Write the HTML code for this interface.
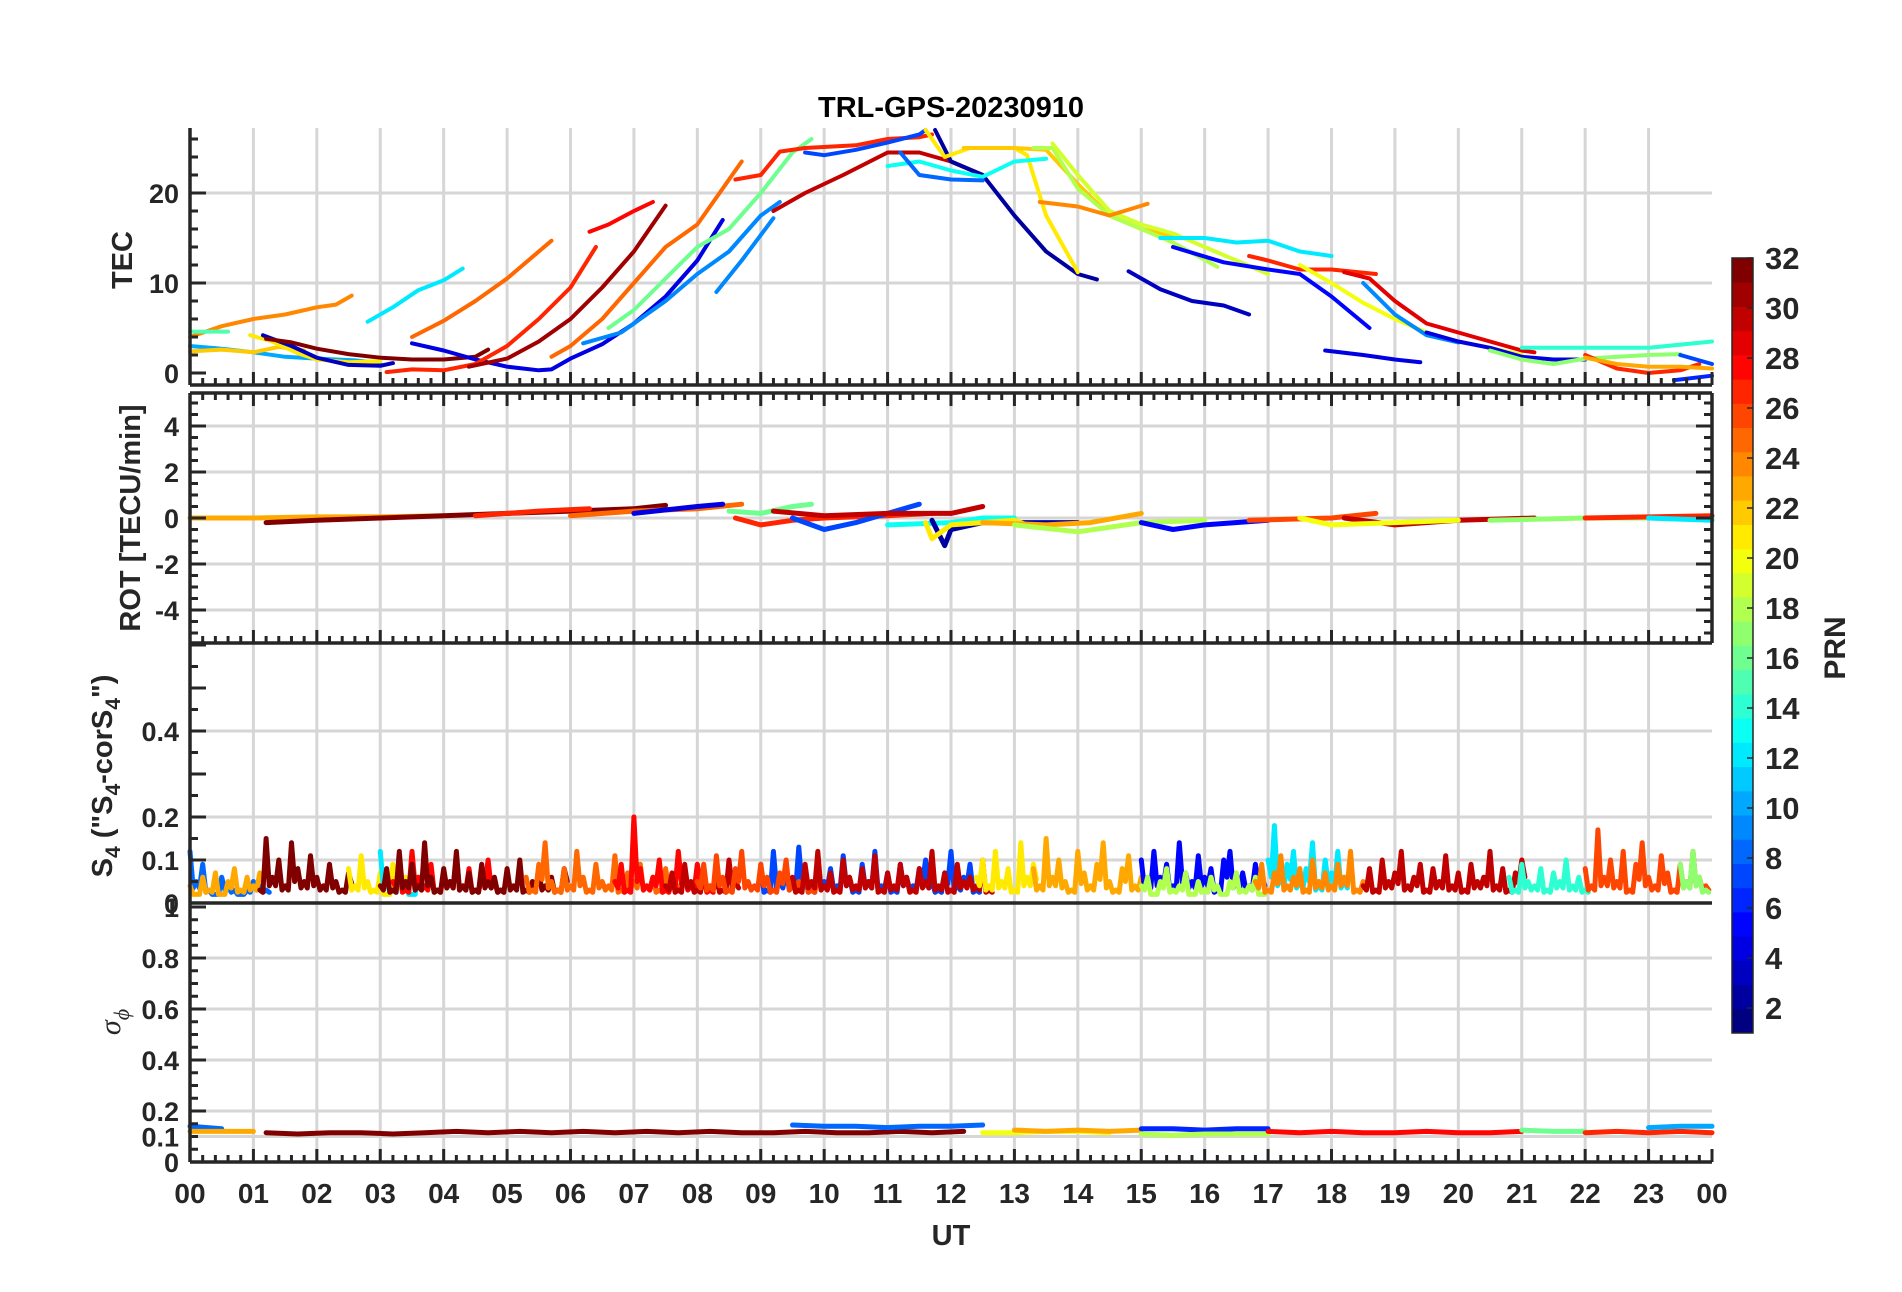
<!DOCTYPE html>
<html><head><meta charset="utf-8"><style>
html,body{margin:0;padding:0;background:#fff;}
svg{display:block;font-family:"Liberation Sans",Arial,sans-serif;font-weight:bold;}
</style></head><body>
<svg id="fig" width="1902" height="1292" viewBox="0 0 1902 1292" xmlns="http://www.w3.org/2000/svg">
<rect x="0" y="0" width="1902" height="1292" fill="#fff"/>
<g id="grid"></g>
<g id="series"></g>
<g id="axes"></g>
<g id="cbar"></g>
<text x="951" y="117" text-anchor="middle" font-size="29" fill="#000">TRL-GPS-20230910</text>
<text x="951" y="1245" text-anchor="middle" font-size="29" fill="#262626">UT</text>
<text transform="translate(132,260) rotate(-90)" text-anchor="middle" font-size="29" fill="#262626">TEC</text>
<text transform="translate(140,518) rotate(-90)" text-anchor="middle" font-size="29" fill="#262626">ROT [TECU/min]</text>
<text transform="translate(112,776) rotate(-90)" text-anchor="middle" font-size="29" fill="#262626">S<tspan font-size="21" dy="8">4</tspan><tspan dy="-8"> ("S</tspan><tspan font-size="21" dy="8">4</tspan><tspan dy="-8">-corS</tspan><tspan font-size="21" dy="8">4</tspan><tspan dy="-8">")</tspan></text>
<text transform="translate(120,1022) rotate(-90)" text-anchor="middle" font-size="30" fill="#262626" font-family="Liberation Serif, serif" font-style="italic" font-weight="normal">σ<tspan font-size="22" dy="9">ϕ</tspan></text>
<text transform="translate(1845,648) rotate(-90)" text-anchor="middle" font-size="30" fill="#262626">PRN</text>
</svg>
<script>
// ---------- data ----------
const hourTicks=["00","01","02","03","04","05","06","07","08","09","10","11","12","13","14","15","16","17","18","19","20","21","22","23","00"];
const tecTicks=[0,10,20];
const rotTicks=[-4,-2,0,2,4];
const s4Ticks=[0,0.1,0.2,0.4];
const sigTicks=[0,0.1,0.2,0.4,0.6,0.8];
const cbarTicks=[2,4,6,8,10,12,14,16,18,20,22,24,26,28,30,32];

const tecPRN=[24,15,10,22,21,3,32,12,25,4,27,31,28,25,9,9,16,27,30,7,2,21,13,8,22,18,19,24,3,12,5,27,29,20,4,9,4,14,17,27,23,7,6];
const tecArcs=[
[[0,4],[0.5,5.2],[1,6],[1.5,6.5],[2,7.3],[2.3,7.6],[2.55,8.6]],
[[0,4.6],[0.6,4.6]],
[[0,3],[0.5,2.7],[1,2.3],[1.5,1.8],[2,1.6],[2.6,1.4],[3,1.1]],
[[0,2.4],[0.5,2.6],[1,2.3],[1.4,2.9],[1.8,2.5]],
[[0.95,4.2],[1.3,3.5],[1.7,2.2],[2,1.5],[2.5,1.2],[3,1.3]],
[[1.15,4.2],[1.6,3.0],[2,1.7],[2.5,0.9],[3,0.8],[3.2,1.1]],
[[1.2,3.8],[1.6,3.4],[2,2.7],[2.5,2.1],[3,1.7],[3.5,1.5],[4,1.5],[4.5,1.8],[4.7,2.6]],
[[2.8,5.7],[3.2,7.3],[3.6,9.2],[4,10.3],[4.3,11.6]],
[[3.5,4],[4,5.8],[4.5,8],[5,10.5],[5.5,13.5],[5.7,14.7]],
[[3.5,3.3],[4,2.5],[4.5,1.5],[5,0.7],[5.5,0.3],[5.7,0.4],[6,1.6],[6.5,3.2],[7,5.5],[7.5,8.5],[8,12.5],[8.4,17]],
[[3.1,0.1],[3.5,0.4],[4,0.3],[4.5,1],[5,3],[5.5,6],[6,9.5],[6.4,14]],
[[4.4,0.7],[5,1.6],[5.5,3.5],[6,6],[6.5,9.5],[7,13.5],[7.5,18.6]],
[[6.3,15.7],[6.6,16.5],[7,18],[7.3,19]],
[[5.7,1.8],[6,3],[6.5,6],[7,10],[7.5,14],[8,16.5],[8.3,19.5],[8.7,23.5]],
[[6.2,3.3],[6.8,4.5],[7.5,8],[8,11],[8.5,13.5],[9,17.5],[9.3,19]],
[[8.3,9],[8.7,12.5],[9.2,17.2]],
[[6.6,5],[7,7],[7.5,10.5],[8,14],[8.5,16],[9,20],[9.5,24.5],[9.8,26]],
[[8.6,21.5],[9,22],[9.3,24.6],[9.7,25],[10.5,25.3],[11,26],[11.5,26.2],[11.7,26.5]],
[[9.2,18],[9.7,20],[10.3,22],[11,24.5],[11.5,24.5],[12,23.5],[12.5,22]],
[[9.7,24.5],[10,24.2],[10.5,24.8],[11,25.6],[11.5,26.5],[11.6,27]],
[[11.75,27],[12,23.5],[12.5,22],[13,17.5],[13.5,13.5],[14,11],[14.3,10.4]],
[[11.6,27],[11.9,24],[12.3,25],[13,25],[13.2,24.2],[13.5,17.5],[14,11.2]],
[[11,23],[11.5,23.5],[12,22.5],[12.5,21.8],[13,23.5],[13.5,23.8]],
[[11.2,24.5],[11.5,22],[12,21.5],[12.5,21.4]],
[[12.2,25],[12.5,25],[13,25],[13.5,24.8],[14,21],[14.5,17.5],[15,16],[15.5,15.2]],
[[13.3,25],[13.6,25],[14,20.5],[14.5,17.5],[15,16],[15.5,14.5],[16.2,11.8]],
[[13.6,25.5],[14,22],[14.5,18],[15,16.5],[15.5,15.5],[16.5,12.5],[17,11]],
[[13.4,19],[14,18.5],[14.5,17.5],[15.1,18.8]],
[[14.8,11.3],[15.3,9.3],[15.8,8],[16.3,7.5],[16.7,6.5]],
[[15.3,15],[16,15],[16.5,14.5],[17,14.7],[17.5,13.5],[18,13]],
[[15.5,14],[16.3,12.3],[17,11.5],[17.5,11],[18,8.5],[18.6,5]],
[[16.7,13],[17,12.5],[17.5,11.5],[18,11.5],[18.7,11]],
[[18.2,11.2],[18.6,10.5],[19,8],[19.5,5.5],[20,4.5],[20.5,3.5],[21,2.5],[21.2,2.3]],
[[17.5,12],[18,10],[18.5,7.8],[19,6],[19.5,4.5],[20,3.5],[20.5,2.8],[21,2]],
[[17.9,2.5],[18.5,2],[19,1.5],[19.4,1.2]],
[[18.5,10],[19,6.5],[19.5,4.2],[20,3.4]],
[[19.5,4.5],[20,3.5],[20.5,2.8],[21,1.8],[21.5,1.5],[22,1.5]],
[[21,2.8],[22,2.8],[23,2.8],[24,3.5]],
[[20.5,2.5],[21,1.5],[21.5,1],[22,1.6],[23,2],[23.5,2.1]],
[[22,2],[22.5,0.5],[23,0],[23.5,0.3],[23.8,1]],
[[22,1.7],[22.5,1],[23,0.7],[23.5,0.7],[24,0.5]],
[[23.5,2],[24,1]],
[[23.4,-0.8],[24,-0.3]]
];

const rotPRN=[23,32,27,25,4,16,27,7,30,13,2,21,23,18,5,26,30,20,17,27,12];
const rotArcs=[
[[0,0],[1,0],[2,0.05],[3,0.05],[4,0.1]],
[[1.2,-0.2],[2,-0.1],[3,0],[4,0.1],[5,0.2],[6,0.3],[7,0.4],[7.5,0.55]],
[[4.5,0.1],[5,0.2],[5.5,0.3],[6.3,0.4]],
[[6,0.1],[7,0.3],[8,0.4],[8.7,0.6]],
[[7,0.2],[8,0.5],[8.4,0.6]],
[[8.5,0.3],[9,0.2],[9.5,0.5],[9.8,0.6]],
[[8.6,0],[9,-0.3],[9.5,-0.1],[10,0],[11,0.1],[11.7,0.2]],
[[9.5,0],[10,-0.5],[10.5,-0.2],[11,0.2],[11.5,0.6]],
[[9.2,0.3],[10,0.1],[11,0.2],[12,0.2],[12.5,0.5]],
[[11,-0.3],[12,-0.2],[12.5,0],[13,0]],
[[11.7,-0.1],[11.9,-1.2],[12,-0.5],[12.5,-0.2],[13,-0.2],[14,-0.2]],
[[11.6,-0.2],[11.7,-0.9],[12,-0.3],[13,-0.1],[13.3,-0.4]],
[[12.5,-0.2],[13.5,-0.3],[14.2,-0.2],[15,0.2]],
[[13,-0.3],[14,-0.6],[15,-0.2],[16,-0.1]],
[[15,-0.2],[15.5,-0.5],[16,-0.3],[17,-0.1]],
[[16.7,-0.1],[18,0],[18.7,0.2]],
[[18.2,0],[19,-0.3],[20,-0.1],[21.2,0]],
[[17.5,0],[18,-0.3],[20,-0.1]],
[[20.5,-0.1],[22,0],[24,0]],
[[22,0],[23,0.05],[24,0.1]],
[[23,0],[24,-0.1]]
];

const s4Start=[0,0,1.1,2.5,3.0,3.2,3.0,5.3,6.7,7.5,9.0,8.0,9.5,12.4,13.3,15.0,15.0,17.0,16.8,18.5,20.8,22.0,23.5];
const s4PRN=[8,23,32,21,12,28,32,25,28,30,7,26,30,21,23,5,18,12,24,30,14,26,17];
const s4Vals=[
[12,5,9,3,2,6,4,3,2,3,5,4,3],
[4,2,6,3,7,2,5,8,3,6,4,7],
[3,15,6,10,4,14,8,5,11,6,4,9,5,3,7],
[8,4,11,5,3,7,2,9,4,6],
[12,5,3,8,4,2,6],
[5,10,3,12,6,4,9,3,7,5,11,4,8,3,6,10,5,3],
[4,8,3,12,5,9,4,14,6,3,8,5,12,4,7,3,9,5,6,3,8,4,10,3,5,7,4,6,3,8],
[6,3,9,14,5,3,8,4,12,6,3,9,5,4,11,3,7,5,9,4,6,3,8,5,4],
[5,9,3,20,8,4,6,10,3,5,12,7,4,9,6,3],
[4,7,3,9,5,3,8,4,6,3,10,5],
[9,3,12,5,8,4,13,6,3,10,5,8,4,11,6,3,9,5,12,4,7,3,9,6,4,8,10,5,3,7,12,4,6,9,3],
[5,9,4,11,6,3,8,12,5,4,9,6,3,7,10,4,5,8,3,6],
[6,3,9,5,12,4,7,3,10,6,4,8,5,11,3,7,4,9,6,3,8,5,12,4,7,3,9,5,6,4,10,3],
[6,10,4,12,5,8,3,14,6,9],
[8,4,15,6,10,5,3,12,7,4,9,14,5,3,8,11,4,6],
[10,5,12,6,9,4,14,7,5,11,6,8,3,10,12,5,7,4,9,6],
[4,6,2,5,8,3,4,7,2,5,3,6,4,2,5,7,3,4,6,2],
[10,18,6,9,12,5,8,14,4,10,7,12,5],
[5,9,3,7,11,4,6,8,3,10,5,7,4,9,6,12,3,5],
[4,8,3,10,5,7,12,4,6,9,3,8,5,11,4,7,3,9,5,6,12,4,8,3,7,10],
[6,3,9,5,4,8,3,7,5,10,4,6,3],
[8,4,17,6,10,5,12,3,9,14,6,4,11,7,3,9,5,12,6,4],
[9,5,12,6,3]
];

const sigStart=[0,0,1.2,9.5,12.5,13.0,15.0,15.0,17.0,21.0,22.0,23.0];
const sigPRN=[8,23,32,8,20,23,6,18,28,16,27,10];
const sigVals=[
[0.14,0.13],
[0.12,0.12,0.12],
[0.115,0.11,0.115,0.115,0.11,0.115,0.12,0.115,0.12,0.115,0.12,0.115,0.12,0.115,0.12,0.115,0.115,0.12,0.115,0.115,0.12,0.115,0.12],
[0.145,0.14,0.14,0.135,0.14,0.14,0.145],
[0.115,0.115,0.12,0.12,0.115],
[0.125,0.12,0.125,0.12,0.125],
[0.13,0.13,0.125,0.13,0.13],
[0.11,0.105,0.11,0.11,0.11],
[0.12,0.115,0.12,0.115,0.115,0.12,0.115,0.115,0.12],
[0.125,0.12,0.12],
[0.115,0.12,0.115,0.12,0.115],
[0.135,0.14,0.14]
];

// ---------- geometry ----------
const X0=190,X1=1712;
const xs=h=>X0+(X1-X0)*h/24;
const P={
 tec:{top:128,bot:385,y:v=>373-v*9},
 rot:{top:393,bot:643,y:v=>518-v*23},
 s4:{top:643,bot:903,y:v=>903-v*430},
 sig:{top:903,bot:1162,y:v=>1162-v*255}
};
function jet(p){const x=(p-1)/31;const c=v=>Math.round(255*Math.max(0,Math.min(1,v)));
 return `rgb(${c(1.5-Math.abs(4*x-3))},${c(1.5-Math.abs(4*x-2))},${c(1.5-Math.abs(4*x-1))})`;}
const NS="http://www.w3.org/2000/svg";
function mk(parent,tag,attrs){const e=document.createElementNS(NS,tag);for(const k in attrs)e.setAttribute(k,attrs[k]);parent.appendChild(e);return e;}
const gGrid=document.getElementById('grid'),gS=document.getElementById('series'),gA=document.getElementById('axes'),gC=document.getElementById('cbar');
const ink="#262626";

for(const k of ["tec","rot","s4","sig"]){const p=P[k];
 for(let h=1;h<24;h++){const l=mk(gGrid,'line',{x1:xs(h),x2:xs(h),y1:p.top,y2:p.bot,stroke:'#d6d6d6','stroke-width':3});
  
  }
}
function ygrid(p,ticks){for(const t of ticks){const l=mk(gGrid,'line',{x1:X0,x2:X1,y1:p.y(t),y2:p.y(t),stroke:'#d6d6d6','stroke-width':3});
 
 }}
ygrid(P.tec,[10,20]);ygrid(P.rot,rotTicks);ygrid(P.s4,[0.1,0.2,0.4]);ygrid(P.sig,[0.1,0.2,0.4,0.6,0.8]);

function poly(pts,p,prn,w,name){const d=pts.map(q=>xs(q[0]).toFixed(1)+","+p.y(q[1]).toFixed(1)).join(" ");
 const e=mk(gS,'polyline',{points:d,fill:'none',stroke:jet(prn),'stroke-width':w,'stroke-linejoin':'round','stroke-linecap':'round'});
 
 }
tecArcs.forEach((a,i)=>poly(a,P.tec,tecPRN[i],4,'tec-arc-prn'+tecPRN[i]));
rotArcs.forEach((a,i)=>poly(a,P.rot,rotPRN[i],5,'rot-arc-prn'+rotPRN[i]));
s4Vals.forEach((v,i)=>{const pts=[];v.forEach((val,j)=>{const nxt=v[Math.min(j+1,v.length-1)];
  pts.push([s4Start[i]+j*0.1,val*0.01]);pts.push([s4Start[i]+j*0.1+0.05,Math.min(val,nxt)*0.005+0.01]);});
 poly(pts,P.s4,s4PRN[i],5,'s4-series-prn'+s4PRN[i]);});
sigVals.forEach((v,i)=>{const pts=v.map((val,j)=>[sigStart[i]+j*0.5,val]);poly(pts,P.sig,sigPRN[i],5,'sigma-series-prn'+sigPRN[i]);});

function line(x1,y1,x2,y2,w,name){const l=mk(gA,'line',{x1,y1,x2,y2,stroke:ink,'stroke-width':w});
 
 }
function txt(x,y,s,anchor,size,name){const t=mk(gA,'text',{x,y,'text-anchor':anchor,'font-size':size,fill:ink});t.textContent=s;
 
 }
function xticks(y,dir){for(let i=0;i<=120;i++){const h=i/5;const L=(i%5===0)?13:7;line(xs(h),y,xs(h),y+dir*L,3,'x-tick');}}
function yticks(p,lo,hi,minor,major,x,dir){const n=Math.round((hi-lo)/minor);for(let i=0;i<=n;i++){const v=lo+i*minor;const isMaj=Math.abs(v/major-Math.round(v/major))<1e-6;
 line(x,p.y(v),x+dir*(isMaj?16:8),p.y(v),3,'y-tick');}}
line(X0,P.tec.top,X0,P.tec.bot,3.5,'tec-y-axis');line(X0,P.tec.bot,X1,P.tec.bot,3.5,'tec-x-axis');
xticks(P.tec.bot,-1);yticks(P.tec,0,26,2,10,X0,1);
tecTicks.forEach(t=>txt(179,P.tec.y(t)+10,String(t),'end',27,'tec-tick-label'));
line(X0,P.rot.top,X0,P.rot.bot,3.5,'rot-y-axis');line(X1,P.rot.top,X1,P.rot.bot,3.5,'rot-right-axis');
line(X0,P.rot.top,X1,P.rot.top,3.5,'rot-top-axis');line(X0,P.rot.bot,X1,P.rot.bot,3.5,'rot-x-axis');
xticks(P.rot.top,1);xticks(P.rot.bot,-1);yticks(P.rot,-5,5,0.5,2,X0,1);yticks(P.rot,-5,5,0.5,2,X1,-1);
rotTicks.forEach(t=>txt(179,P.rot.y(t)+10,String(t),'end',27,'rot-tick-label'));
line(X0,P.s4.top,X0,P.s4.bot,3.5,'s4-y-axis');line(X0,P.s4.bot,X1,P.s4.bot,3.5,'s4-x-axis');
yticks(P.s4,0,0.6,0.05,0.1,X0,1);
s4Ticks.forEach(t=>txt(179,P.s4.y(t)+10,String(t),'end',27,'s4-tick-label'));
line(X0,P.sig.top,X0,P.sig.bot,3.5,'sigma-y-axis');line(X0,P.sig.bot,X1,P.sig.bot,3.5,'sigma-x-axis');
xticks(P.sig.bot,-1);yticks(P.sig,0,1,0.05,0.2,X0,1);
sigTicks.forEach(t=>txt(179,P.sig.y(t)+10,String(t),'end',27,'sigma-tick-label'));
txt(179,P.sig.y(1)+10,"1",'end',27,'sigma-tick-label');
hourTicks.forEach((s,i)=>txt(xs(i),1203,s,'middle',28,'x-tick-label'));

const CB={x:1732,w:21,top:258,bot:1033};
const cy=v=>CB.bot-(v-1)*(CB.bot-CB.top)/31;
for(let p=1;p<=32;p++){const h=(CB.bot-CB.top)/32;const r=mk(gC,'rect',{x:CB.x,y:CB.bot-p*h,width:CB.w,height:h+0.5,fill:jet(p)});
 
 }
const fr=mk(gC,'rect',{x:CB.x,y:CB.top,width:CB.w,height:CB.bot-CB.top,fill:'none',stroke:ink,'stroke-width':1.5});


cbarTicks.forEach(t=>{const l=mk(gC,'line',{x1:CB.x+CB.w-6,x2:CB.x+CB.w,y1:cy(t),y2:cy(t),stroke:ink,'stroke-width':1.5});
 
 
 const tx=mk(gC,'text',{x:1765,y:cy(t)+11,'font-size':31,fill:ink});tx.textContent=String(t);
 
 });
</script>
</body></html>
